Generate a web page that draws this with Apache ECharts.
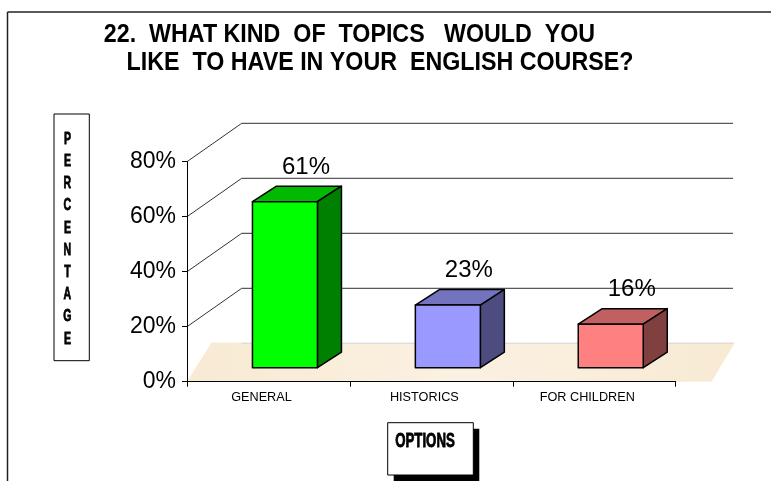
<!DOCTYPE html>
<html>
<head>
<meta charset="utf-8">
<script src="https://cdn.jsdelivr.net/npm/echarts@6/dist/echarts.min.js"></script>
<style>
  html, body { margin: 0; padding: 0; background: #ffffff; }
  #chart { width: 771px; height: 481px; }
</style>
</head>
<body>
<div id="chart"></div>
<script>
// ---- data ----
const titleLines = ['22.  WHAT KIND  OF  TOPICS   WOULD  YOU', 'LIKE  TO HAVE IN YOUR  ENGLISH COURSE?'];
const categories = ['GENERAL', 'HISTORICS', 'FOR CHILDREN'];
const values = [61, 23, 16];
const yTicks = [0, 20, 40, 60, 80];
const yAxisTitle = 'PERCENTAGE';
const xAxisTitle = 'OPTIONS';

// ---- styles ----
const faceColors = [
  { front: '#00ff00', top: '#00b900', side: '#008000' },
  { front: '#9999ff', top: '#7373c0', side: '#4c4c80' },
  { front: '#ff8080', top: '#c06060', side: '#804040' }
];
const ARIAL = "'Liberation Sans', Arial, Helvetica, sans-serif";
const DEPTH_X = 24, DEPTH_Y = -15.5;       // bar depth
const WALL_X = 54.7, WALL_Y = -38.4;      // back wall offset
const WALL_RIGHT = 733;

const chart = echarts.init(document.getElementById('chart'), null, { renderer: 'canvas' });

const option = {
  animation: false,
  backgroundColor: '#ffffff',
  grid: [
    { left: 187, top: 161.7, width: 488.7, height: 220, containLabel: false },
    { left: 203.5, top: 150, width: 488.7, height: 217.7, containLabel: false }
  ],
  xAxis: [
    {
      type: 'category', gridIndex: 0, data: categories, z: 5,
      axisLine: { show: true, lineStyle: { color: '#000', width: 1 } },
      axisTick: { show: true, length: 5, lineStyle: { color: '#000' } },
      axisLabel: { color: '#000', fontFamily: ARIAL, fontSize: 12.7, margin: 9, padding: [0, 14, 0, 0] },
      splitLine: { show: false }
    },
    { type: 'category', gridIndex: 1, data: categories, show: false }
  ],
  yAxis: [
    {
      type: 'value', gridIndex: 0, min: 0, max: 80, interval: 20, z: 5,
      axisLine: { show: true, lineStyle: { color: '#000', width: 1 } },
      axisTick: { show: true, length: 5, lineStyle: { color: '#000' } },
      axisLabel: { color: '#000', fontFamily: ARIAL, fontSize: 23, margin: 11,
        formatter: v => yTicks.includes(v) ? v + '%' : '' },
      splitLine: { show: false }
    },
    { type: 'value', gridIndex: 1, min: 0, max: 80, show: false }
  ],
  series: [
    {
      // back wall & floor of the 3D plot
      type: 'custom', xAxisIndex: 0, yAxisIndex: 0, z: 1, silent: true,
      data: [[0, 0]],
      renderItem: function (params, api) {
        const cs = params.coordSys;
        const L = cs.x;
        const y0 = api.coord([0, 0])[1];
        const children = [];
        children.push({
          type: 'polygon',
          shape: { points: [[L, y0], [L + 24.5, y0 - 39.2], [L + 548, y0 - 39.2], [L + 524.5, y0]] },
          style: {
            fill: new echarts.graphic.LinearGradient(0, 0, 1, 0, [
              { offset: 0, color: '#f8ead3' },
              { offset: 0.5, color: '#fbf1e2' },
              { offset: 1, color: '#f8ead3' }
            ])
          }
        });
        yTicks.forEach(function (t) {
          const y = api.coord([0, t])[1];
          const col = t === 0 ? '#dddddd' : '#5a5a5a';
          if (t !== 0) {
            children.push({ type: 'line', shape: { x1: L, y1: y, x2: L + WALL_X, y2: y + WALL_Y },
              style: { stroke: '#333', lineWidth: 1 } });
          }
          children.push({ type: 'line', shape: { x1: L + WALL_X, y1: y + WALL_Y, x2: WALL_RIGHT, y2: y + WALL_Y },
            style: { stroke: col, lineWidth: 1.2 } });
        });
        return { type: 'group', children: children };
      }
    },
    {
      type: 'custom', xAxisIndex: 1, yAxisIndex: 1, z: 10,
      data: values.map((v, i) => [i, v]),
      renderItem: function (params, api) {
        const i = api.value(0);
        const v = api.value(1);
        const c = api.coord([i, v]);
        const b = api.coord([i, 0]);
        const w = 65;
        const x0 = c[0] - w / 2, x1 = c[0] + w / 2;
        const yt = c[1], yb = b[1];
        const col = faceColors[i];
        const stroke = { stroke: '#000', lineWidth: 1.5, lineJoin: 'round' };
        return {
          type: 'group',
          children: [
            { type: 'polygon', shape: { points: [[x0, yt], [x0 + DEPTH_X, yt + DEPTH_Y], [x1 + DEPTH_X, yt + DEPTH_Y], [x1, yt]] },
              style: Object.assign({ fill: col.top }, stroke) },
            { type: 'polygon', shape: { points: [[x1, yt], [x1 + DEPTH_X, yt + DEPTH_Y], [x1 + DEPTH_X, yb + DEPTH_Y], [x1, yb]] },
              style: Object.assign({ fill: col.side }, stroke) },
            { type: 'rect', shape: { x: x0, y: yt, width: w, height: yb - yt },
              style: Object.assign({ fill: col.front }, stroke) },
            { type: 'text', style: { text: v + '%', x: c[0] + 21, y: yt + DEPTH_Y - 19,
                align: 'center', verticalAlign: 'middle', fontFamily: ARIAL, fontSize: 24, fill: '#000' } }
          ]
        };
      }
    }
  ],
  graphic: [
    // outer frame
    { type: 'line', shape: { x1: 7.5, y1: 12, x2: 7.5, y2: 481 }, style: { stroke: '#222', lineWidth: 1.5 } },
    { type: 'line', shape: { x1: 7.5, y1: 12, x2: 771, y2: 12 }, style: { stroke: '#222', lineWidth: 1.5 } },
    // title
    { type: 'text', x: 349.5, y: 35, scaleX: 0.93, style: { text: titleLines[0], align: 'center', verticalAlign: 'middle',
        fontFamily: ARIAL, fontWeight: 'bold', fontSize: 25, fill: '#000' } },
    { type: 'text', x: 380, y: 63, scaleX: 0.93, style: { text: titleLines[1], align: 'center', verticalAlign: 'middle',
        fontFamily: ARIAL, fontWeight: 'bold', fontSize: 25, fill: '#000' } },
    // y axis title box
    { type: 'rect', shape: { x: 54, y: 114, width: 35.3, height: 246.7 }, style: { fill: '#fff', stroke: '#000', lineWidth: 1 } },
    { type: 'text', x: 67.4, y: 239, scaleX: 0.62, style: { text: yAxisTitle.split('').join('\n'), align: 'center', verticalAlign: 'middle',
        lineHeight: 22.2, fontFamily: ARIAL, fontWeight: 'bold', fontSize: 17, fill: '#000',
        stroke: '#000', lineWidth: 0.8 } },
    // x axis title box with shadow
    { type: 'rect', shape: { x: 393.7, y: 428.7, width: 85.6, height: 52.3 }, style: { fill: '#000' } },
    { type: 'rect', shape: { x: 387.7, y: 422.7, width: 85.6, height: 52.3 }, style: { fill: '#fff', stroke: '#000', lineWidth: 1 } },
    { type: 'text', x: 425, y: 442, scaleX: 0.68, style: { text: xAxisTitle, align: 'center', verticalAlign: 'middle',
        fontFamily: ARIAL, fontWeight: 'bold', fontSize: 19.5, fill: '#000', stroke: '#000', lineWidth: 0.8 } }
  ]
};

chart.setOption(option);
</script>
</body>
</html>
